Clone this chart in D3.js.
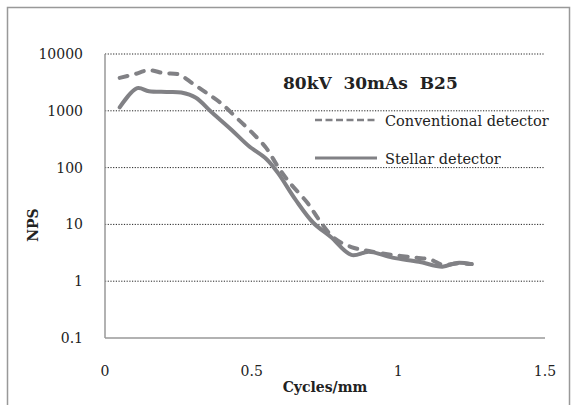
<!DOCTYPE html>
<html>
<head>
<meta charset="utf-8">
<script src="https://cdn.jsdelivr.net/npm/d3@7"></script>
<style>
  body { margin: 0; background: #fff; }
  text { font-family: "DejaVu Serif", serif; fill: #222; }
</style>
</head>
<body>
<svg></svg>
<script>
const size = {w: 577, h: 405};
const margin = {t: 54, r: 32, b: 67, l: 105};

// series (cycles/mm, NPS)
const convX = [0.05, 0.10, 0.15, 0.20, 0.25, 0.30, 0.35, 0.40, 0.45, 0.50, 0.55, 0.59, 0.63, 0.69, 0.73, 0.78, 0.84, 0.90, 0.98, 1.06, 1.11, 1.15, 1.20, 1.25];
const convY = [3800, 4400, 5200, 4600, 4400, 3000, 2000, 1300, 740, 420, 220, 103, 54, 24, 12, 5.8, 4.0, 3.4, 2.9, 2.6, 2.4, 1.95, 2.05, 2.0];
const stelX = [0.05, 0.11, 0.15, 0.21, 0.26, 0.31, 0.36, 0.43, 0.49, 0.55, 0.59, 0.65, 0.71, 0.77, 0.84, 0.90, 0.98, 1.07, 1.15, 1.20, 1.25];
const stelY = [1150, 2500, 2200, 2150, 2100, 1700, 980, 470, 240, 142, 80, 27, 10.7, 6.0, 2.9, 3.3, 2.6, 2.2, 1.8, 2.1, 2.0];

const yTicks = [0.1, 1, 10, 100, 1000, 10000];
const xTicks = [0, 0.5, 1, 1.5];
const legendLabels = ['Conventional detector', 'Stellar detector'];
const title = '80kV  30mAs  B25';

const svg = d3.select('svg')
    .attr('width', size.w)
    .attr('height', size.h);

// outer frame
svg.append('rect')
    .attr('x', 7.5).attr('y', 7.5)
    .attr('width', 562).attr('height', 420)
    .attr('fill', 'none')
    .attr('stroke', '#999')
    .attr('stroke-width', 1.5);

const x = d3.scaleLinear().domain([0, 1.5]).range([margin.l, size.w - margin.r]);
const y = d3.scaleLog().domain([0.1, 10000]).range([size.h - margin.b, margin.t]);

// dotted gridlines
svg.append('g')
    .selectAll('line')
    .data(yTicks.filter(d => d > 0.1))
    .join('line')
    .attr('x1', x(0)).attr('x2', x(1.5))
    .attr('y1', d => y(d)).attr('y2', d => y(d))
    .attr('stroke', '#222')
    .attr('stroke-width', 1)
    .attr('stroke-dasharray', '1.2,1.5');

// axes lines
svg.append('line')
    .attr('x1', x(0)).attr('x2', x(0))
    .attr('y1', y(10000)).attr('y2', y(0.1))
    .attr('stroke', '#999').attr('stroke-width', 1.5);
svg.append('line')
    .attr('x1', x(0)).attr('x2', x(1.5))
    .attr('y1', y(0.1)).attr('y2', y(0.1))
    .attr('stroke', '#999').attr('stroke-width', 1.5);

// tick labels
svg.append('g')
    .selectAll('text')
    .data(yTicks)
    .join('text')
    .attr('x', x(0) - 22)
    .attr('y', d => y(d))
    .attr('dy', '0.35em')
    .attr('text-anchor', 'end')
    .style('font-size', '14px')
    .text(d => d);

svg.append('g')
    .selectAll('text')
    .data(xTicks)
    .join('text')
    .attr('x', d => x(d))
    .attr('y', y(0.1) + 38)
    .attr('text-anchor', 'middle')
    .style('font-size', '14px')
    .text(d => d);

// axis titles
svg.append('text')
    .attr('x', x(0.75))
    .attr('y', 392)
    .attr('text-anchor', 'middle')
    .style('font-size', '14px')
    .style('font-weight', 'bold')
    .text('Cycles/mm');

svg.append('text')
    .attr('transform', 'translate(38,225) rotate(-90)')
    .attr('text-anchor', 'middle')
    .style('font-size', '14px')
    .style('font-weight', 'bold')
    .text('NPS');

// curves
const line = d3.line()
    .x(d => x(d[0]))
    .y(d => y(d[1]))
    .curve(d3.curveCatmullRom);

const conv = convX.map((v, i) => [v, convY[i]]);
const stel = stelX.map((v, i) => [v, stelY[i]]);

svg.append('path')
    .attr('d', line(stel))
    .attr('fill', 'none')
    .attr('stroke', '#818185')
    .attr('stroke-width', 4)
    .attr('stroke-linecap', 'round');

svg.append('path')
    .attr('d', line(conv))
    .attr('fill', 'none')
    .attr('stroke', '#818185')
    .attr('stroke-width', 4)
    .attr('stroke-linecap', 'round')
    .attr('stroke-dasharray', '8,9');

// title
svg.append('text')
    .attr('x', 283)
    .attr('y', 89)
    .attr('xml:space', 'preserve')
    .style('white-space', 'pre')
    .style('font-size', '17px')
    .style('font-weight', 'bold')
    .text(title);

// legend
const legend = svg.append('g');
legend.append('line')
    .attr('x1', 315).attr('x2', 377).attr('y1', 120).attr('y2', 120)
    .attr('stroke', '#818185').attr('stroke-width', 2.5)
    .attr('stroke-dasharray', '7,3.5');
legend.append('line')
    .attr('x1', 315).attr('x2', 377).attr('y1', 158).attr('y2', 158)
    .attr('stroke', '#818185').attr('stroke-width', 3);
legend.selectAll('text')
    .data(legendLabels)
    .join('text')
    .attr('x', 385)
    .attr('y', (d, i) => i === 0 ? 126 : 164)
    .style('font-size', '14.5px')
    .text(d => d);
</script>
</body>
</html>
